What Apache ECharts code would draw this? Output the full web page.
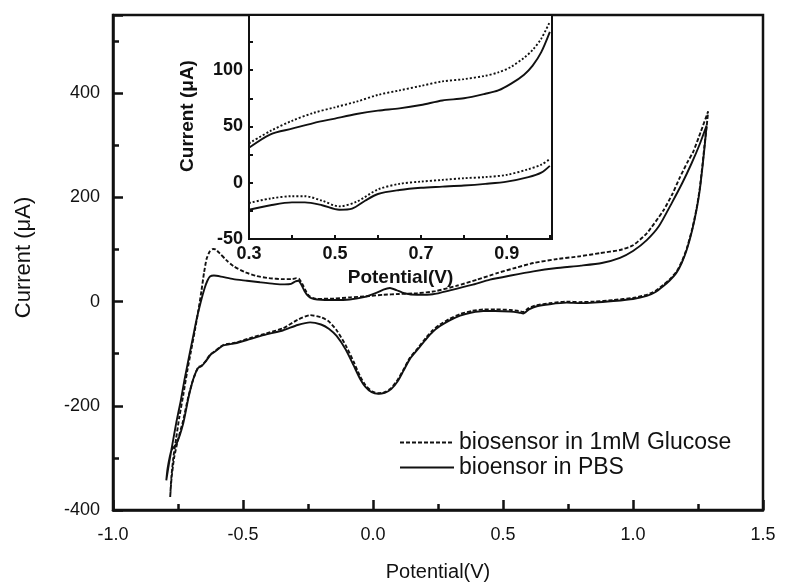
<!DOCTYPE html>
<html>
<head>
<meta charset="utf-8">
<title>CV biosensor</title>
<script src="https://cdn.jsdelivr.net/npm/echarts@6/dist/echarts.min.js"></script>
<style>
  html, body { margin: 0; padding: 0; background: #fff; }
  #cv-chart { width: 802px; height: 587px; }
</style>
</head>
<body>
<div id="cv-chart"></div>
<script>
// full CV loops, [potential (V), current (uA)]
const glucoseLoop = [
  [-0.78,-375],[-0.776,-340],[-0.768,-300],[-0.757,-262],[-0.745,-222],[-0.73,-180],[-0.715,-135],[-0.7,-95],
  [-0.685,-55],[-0.672,-18],[-0.66,20],[-0.65,55],[-0.64,82],[-0.628,96],[-0.615,101],[-0.605,100],[-0.59,93],
  [-0.565,80],[-0.537,68],[-0.49,56],[-0.447,49],[-0.4,45],[-0.345,43],[-0.31,43],[-0.295,45],[-0.285,44],
  [-0.272,34],[-0.26,22],[-0.248,12],[-0.232,7],[-0.215,5],[-0.15,6],[-0.088,8],[-0.03,10],[0.04,13],[0.1,14.5],
  [0.17,16],[0.24,20],[0.32,30],[0.4,42],[0.48,55],[0.55,65],[0.617,74],[0.7,81],[0.796,87],[0.873,93],[0.95,99],
  [1.0,108],[1.053,131],[1.117,175],[1.15,205],[1.18,238],[1.21,268],[1.232,288],[1.26,325],[1.289,365],
  [1.283,335],[1.275,300],[1.268,266],[1.257,218],[1.245,180],[1.228,140],[1.207,102],[1.188,77],[1.168,58],
  [1.14,42],[1.117,32],[1.085,20],[1.053,13],[1.0,7],[0.924,3],[0.85,0],[0.796,-1],[0.745,0],[0.68,-3],[0.63,-7],
  [0.6,-12],[0.578,-20],[0.56,-18],[0.527,-16],[0.47,-15],[0.424,-15],[0.38,-18],[0.335,-24],[0.295,-33],
  [0.258,-44],[0.23,-55],[0.206,-68],[0.175,-88],[0.142,-108],[0.117,-131],[0.095,-150],[0.07,-166],[0.045,-174],
  [0.02,-176],[-0.005,-172],[-0.03,-160],[-0.05,-143],[-0.075,-115],[-0.105,-84],[-0.14,-55],[-0.17,-38],
  [-0.2,-30],[-0.242,-26],[-0.29,-35],[-0.345,-51],[-0.41,-61],[-0.473,-70],[-0.53,-79],[-0.575,-83],[-0.59,-88],
  [-0.605,-94],[-0.625,-101],[-0.645,-115],[-0.66,-123],[-0.672,-126],[-0.685,-140],[-0.695,-155],[-0.71,-182],
  [-0.73,-228],[-0.75,-265],[-0.765,-300],[-0.775,-340],[-0.78,-375]
]
const pbsLoop = [
  [-0.795,-343],[-0.785,-312],[-0.772,-275],[-0.755,-228],[-0.74,-192],[-0.725,-150],[-0.71,-112],[-0.695,-75],
  [-0.678,-33],[-0.662,0],[-0.648,25],[-0.637,40],[-0.627,48],[-0.612,50],[-0.585,48],[-0.537,43],[-0.485,40],
  [-0.435,37],[-0.38,34],[-0.34,33],[-0.315,34],[-0.298,39],[-0.287,40],[-0.275,32],[-0.263,20],[-0.25,11],
  [-0.235,6],[-0.215,4],[-0.15,3],[-0.09,4],[-0.03,9],[0.01,16],[0.04,23],[0.065,26],[0.09,22],[0.12,16],
  [0.17,13],[0.23,14],[0.3,22],[0.38,32],[0.45,42],[0.53,50],[0.617,58],[0.7,64],[0.8,69],[0.88,74],[0.95,84],
  [1.0,97],[1.053,118],[1.1,145],[1.15,190],[1.19,228],[1.225,265],[1.255,300],[1.283,338],
  [1.276,300],[1.268,262],[1.257,215],[1.245,178],[1.228,138],[1.207,100],[1.188,75],[1.168,56],[1.14,40],
  [1.117,30],[1.085,18],[1.053,11],[1.0,5],[0.924,1],[0.85,-2],[0.796,-3],[0.745,-2],[0.68,-5],[0.63,-9],
  [0.6,-15],[0.578,-23],[0.56,-21],[0.527,-19],[0.47,-18],[0.424,-18],[0.38,-21],[0.335,-27],[0.295,-36],
  [0.258,-47],[0.23,-58],[0.206,-71],[0.175,-90],[0.142,-110],[0.117,-133],[0.095,-153],[0.07,-168],[0.045,-175],
  [0.02,-177],[-0.005,-174],[-0.03,-163],[-0.05,-148],[-0.075,-122],[-0.105,-92],[-0.14,-66],[-0.17,-52],
  [-0.2,-44],[-0.242,-40],[-0.29,-45],[-0.345,-55],[-0.41,-63],[-0.473,-72],[-0.53,-80],[-0.575,-84],[-0.59,-89],
  [-0.605,-95],[-0.625,-102],[-0.645,-116],[-0.66,-124],[-0.672,-127],[-0.685,-140],[-0.695,-155],[-0.71,-185],
  [-0.73,-234],[-0.755,-272],[-0.775,-285],[-0.79,-320],[-0.795,-343]
]

// inset, 0.3 - 1.0 V
const insetGlucoseUpper = [[0.3,35],[0.35,46],[0.4,55],[0.45,62],[0.5,67],[0.55,72],[0.6,78],[0.65,82],[0.7,86],
  [0.75,90],[0.8,92],[0.85,95],[0.88,98],[0.91,103],[0.94,111],[0.96,118],[0.98,128],[1.0,143]]
const insetPbsUpper = [[0.3,31],[0.35,43],[0.4,48],[0.45,53],[0.5,57],[0.55,61],[0.6,64],[0.65,66],[0.7,69],
  [0.75,73],[0.8,75],[0.85,79],[0.88,82],[0.91,88],[0.94,96],[0.96,104],[0.98,116],[1.0,134]]
const insetGlucoseLower = [[0.3,-18],[0.35,-14],[0.4,-12],[0.43,-12],[0.47,-16],[0.51,-21],[0.55,-17],[0.6,-6],
  [0.65,-1],[0.7,1],[0.75,2.5],[0.8,4],[0.85,5],[0.9,7],[0.95,12],[0.98,16],[1.0,21]]
const insetPbsLower = [[0.3,-24],[0.35,-20],[0.4,-17.5],[0.43,-17.5],[0.47,-20],[0.51,-24],[0.54,-23],[0.57,-16],
  [0.6,-10],[0.65,-6.5],[0.7,-4.5],[0.75,-3.5],[0.8,-2.5],[0.85,-1],[0.9,1],[0.95,5],[0.98,9],[1.0,15]]

const legendNames = ['biosensor in 1mM Glucose', 'bioensor in PBS']
const mainYLabels = [-400, -200, 0, 200, 400]
const insetXLabels = [0.3, 0.5, 0.7, 0.9]
const insetYLabels = [-50, 0, 50, 100]

const font = '"Liberation Sans", Arial, sans-serif'
const ink = '#111'

const chart = echarts.init(document.getElementById('cv-chart'))

const dashedLine = { color: ink, width: 1.9, type: [4, 2] }
const solidLine = { color: ink, width: 1.9, type: 'solid' }

const option = {
  animation: false,
  backgroundColor: '#fff',
  legend: {
    orient: 'vertical',
    left: 394,
    top: 426,
    itemWidth: 54,
    itemHeight: 14,
    itemGap: 2,
    // hide the round marker line series put in the middle of the icon
    itemStyle: { color: 'rgba(0,0,0,0)', borderColor: 'rgba(0,0,0,0)', borderWidth: 0 },
    textStyle: { fontFamily: font, fontSize: 23, color: ink },
    data: legendNames
  },
  grid: [
    { left: 113, right: 39, top: 15, bottom: 69, show: true, borderColor: ink, borderWidth: 2.5 },
    { left: 249, right: 250, top: 15, bottom: 348, show: true, borderColor: ink, borderWidth: 2,
      backgroundColor: '#fff', z: 3 }
  ],
  xAxis: [
    {
      gridIndex: 0, type: 'value', min: -1, max: 1.5, interval: 0.5,
      name: 'Potential(V)', nameLocation: 'middle', nameGap: 52,
      nameTextStyle: { fontFamily: font, fontSize: 20, color: ink },
      axisLine: { onZero: false, lineStyle: { color: ink, width: 2.5 } },
      axisTick: { inside: true, length: 10, lineStyle: { width: 2.5, color: ink } },
      minorTick: { show: true, splitNumber: 2, length: 6, lineStyle: { width: 2.5, color: ink } },
      axisLabel: { fontFamily: font, fontSize: 18, color: ink, margin: 16, formatter: v => v.toFixed(1) },
      splitLine: { show: false }
    },
    {
      gridIndex: 1, type: 'value', min: 0.3, max: 1.005, interval: 0.1,
      name: 'Potential(V)', nameLocation: 'middle', nameGap: 29,
      nameTextStyle: { fontFamily: font, fontSize: 19, fontWeight: 'bold', color: ink },
      axisLine: { onZero: false, lineStyle: { color: ink, width: 2 } },
      axisTick: { inside: true, length: 4, lineStyle: { width: 2, color: ink } },
      axisLabel: {
        fontFamily: font, fontSize: 18, fontWeight: 'bold', color: ink, margin: 6,
        formatter: v => insetXLabels.some(t => Math.abs(t - v) < 1e-6) ? v.toFixed(1) : ''
      },
      splitLine: { show: false },
      z: 4
    }
  ],
  yAxis: [
    {
      gridIndex: 0, type: 'value', position: 'left', min: -400, max: 550, interval: 100,
      name: 'Current (\u03bcA)', nameLocation: 'middle', nameGap: 78,
      nameTextStyle: { fontFamily: font, fontSize: 22, color: ink, padding: [0, 0, 0, 10] },
      axisLine: { onZero: false, lineStyle: { color: ink, width: 2.5 } },
      axisTick: { inside: true, length: 6, lineStyle: { width: 2.5, color: ink } },
      axisLabel: {
        fontFamily: font, fontSize: 18, color: ink, margin: 13,
        formatter: v => mainYLabels.indexOf(v) >= 0 ? String(v) : ''
      },
      splitLine: { show: false }
    },
    {
      // long ticks at the labelled values
      gridIndex: 0, type: 'value', position: 'left', min: -400, max: 550, interval: 200,
      axisLine: { show: false, onZero: false },
      axisTick: { inside: true, length: 10, lineStyle: { width: 2.5, color: ink } },
      axisLabel: { show: false },
      splitLine: { show: false }
    },
    {
      gridIndex: 1, type: 'value', position: 'left', min: -50, max: 149, interval: 25,
      name: 'Current (\u03bcA)', nameLocation: 'middle', nameGap: 52,
      nameTextStyle: { fontFamily: font, fontSize: 19, fontWeight: 'bold', color: ink, padding: [0, 0, 0, 22] },
      axisLine: { onZero: false, lineStyle: { color: ink, width: 2 } },
      axisTick: { inside: true, length: 4, lineStyle: { width: 2, color: ink } },
      axisLabel: {
        fontFamily: font, fontSize: 18, fontWeight: 'bold', color: ink, margin: 6,
        formatter: v => insetYLabels.indexOf(v) >= 0 ? String(v) : ''
      },
      splitLine: { show: false },
      z: 4
    }
  ],
  series: [
    { name: legendNames[0], type: 'line', xAxisIndex: 0, yAxisIndex: 0, data: glucoseLoop,
      symbol: 'none', smooth: 0.2, lineStyle: dashedLine, itemStyle: { color: ink } },
    { name: legendNames[1], type: 'line', xAxisIndex: 0, yAxisIndex: 0, data: pbsLoop,
      symbol: 'none', smooth: 0.2, lineStyle: solidLine, itemStyle: { color: ink } },
    { name: legendNames[0], type: 'line', xAxisIndex: 1, yAxisIndex: 2, data: insetGlucoseUpper,
      symbol: 'none', smooth: 0.3, lineStyle: { color: ink, width: 1.9, type: [2, 2] }, z: 5 },
    { name: legendNames[0], type: 'line', xAxisIndex: 1, yAxisIndex: 2, data: insetGlucoseLower,
      symbol: 'none', smooth: 0.3, lineStyle: { color: ink, width: 1.9, type: [2, 2] }, z: 5 },
    { name: legendNames[1], type: 'line', xAxisIndex: 1, yAxisIndex: 2, data: insetPbsUpper,
      symbol: 'none', smooth: 0.3, lineStyle: { color: ink, width: 1.9 }, z: 5 },
    { name: legendNames[1], type: 'line', xAxisIndex: 1, yAxisIndex: 2, data: insetPbsLower,
      symbol: 'none', smooth: 0.3, lineStyle: { color: ink, width: 1.9 }, z: 5 }
  ]
}

chart.setOption(option)
window.addEventListener('resize', () => chart.resize())
</script>
</body>
</html>
